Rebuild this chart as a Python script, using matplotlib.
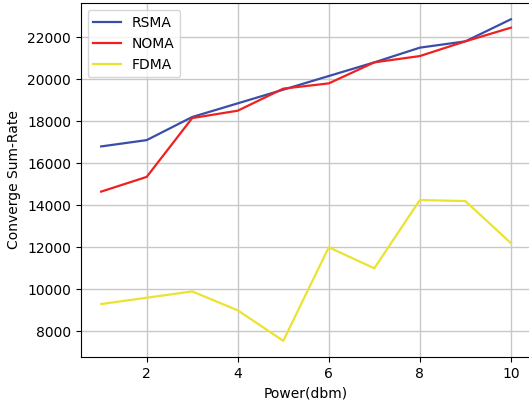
import matplotlib
matplotlib.use("Agg")
import matplotlib.pyplot as plt

# power levels (dbm)
power = [1, 2, 3, 4, 5, 6, 7, 8, 9, 10]

# converged sum-rate per scheme
rsma = [16800, 17100, 18200, 18850, 19500, 20150, 20800, 21500, 21800, 22850]
noma = [14650, 15350, 18150, 18500, 19550, 19800, 20800, 21100, 21800, 22450]
fdma = [9300, 9600, 9900, 9000, 7550, 12000, 11000, 14250, 14200, 12200]

fig = plt.figure(figsize=(5.29, 4.01), dpi=100)
ax = fig.add_axes([0.1525, 0.110, 0.852, 0.882])

ax.plot(power, rsma, color='#3a4ea8', label='RSMA', linewidth=1.6)
ax.plot(power, noma, color='#f02020', label='NOMA', linewidth=1.6)
ax.plot(power, fdma, color='#ece232', label='FDMA', linewidth=1.6)

ax.set_xlabel('Power(dbm)')
ax.set_ylabel('Converge Sum-Rate')
ax.grid(True, color='#c8c8c8', linewidth=1)
ax.legend(loc='upper left')

fig.savefig("out.png", dpi=100)
